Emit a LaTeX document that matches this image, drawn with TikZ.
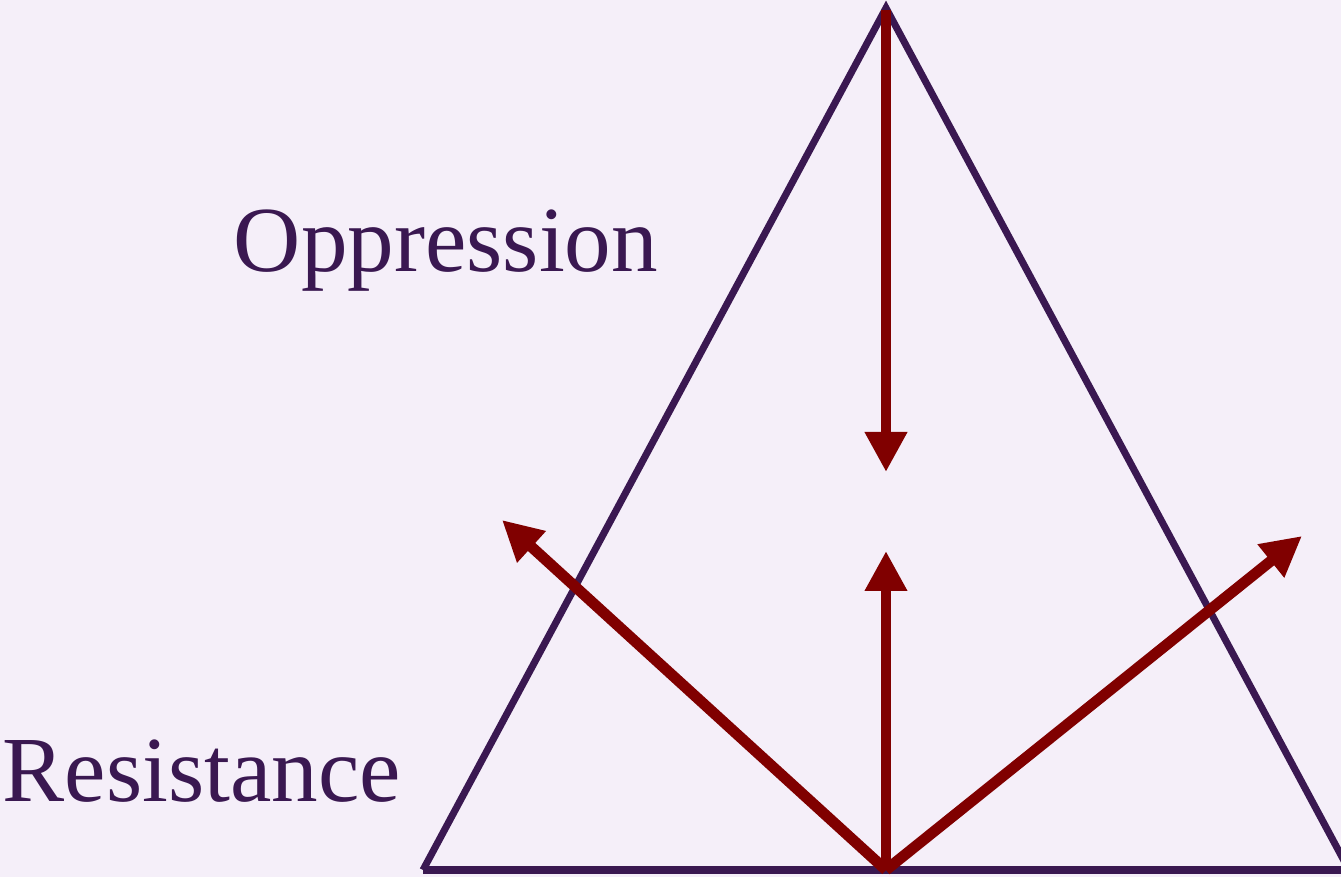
\documentclass[tikz,border=0pt]{standalone}
\usepackage{fontspec}
\setmainfont{Liberation Serif}
\usetikzlibrary{arrows.meta,positioning}
\definecolor{bgpaper}{HTML}{F5EFF9}
\definecolor{plum}{HTML}{3A1851}
\definecolor{maroon}{HTML}{800000}
\tikzset{
  side/.style      = {line width=2pt, draw=plum},
  force/.style     = {-{Triangle[length=4mm,width=4mm]}, line width=3.1pt, draw=maroon, fill=maroon},
  bigword/.style   = {font=\fontsize{26.5}{30}\selectfont, text=plum, inner sep=0pt, anchor=base},
}

\begin{document}
\begin{tikzpicture}
  \useasboundingbox (0,0) rectangle (13.41,8.77);
  \fill[bgpaper] (0,0) rectangle (13.41,8.77);

  % triangle corners
  \coordinate (apex) at (8.86,8.69);
  \coordinate (bl)   at (4.23,0.07);
  \coordinate (br)   at (13.49,0.07);
  \coordinate (base) at (8.86,0.07);

  % arrow ends
  \coordinate (top)    at (8.86,8.67);
  \coordinate (downtip) at (8.86,4.05);
  \coordinate (uptip)   at (8.86,3.26);
  \coordinate (lefttip) at (5.02,3.57);
  \coordinate (righttip) at (13.02,3.41);

  % triangle
  \draw[side] (bl) -- (apex) -- (br);
  \draw[side] (bl) -- (br);

  % forces
  \draw[force] (top) -- (downtip);
  \draw[force] (base) -- (uptip);
  \draw[force] (base) -- (lefttip);
  \draw[force] (base) -- (righttip);

  % labels
  \node[bigword] (oppression) at (4.46,6.05) {Oppression};
  \node[bigword] (resistance) at (2.02,0.75) {Resistance};
\end{tikzpicture}
\end{document}
